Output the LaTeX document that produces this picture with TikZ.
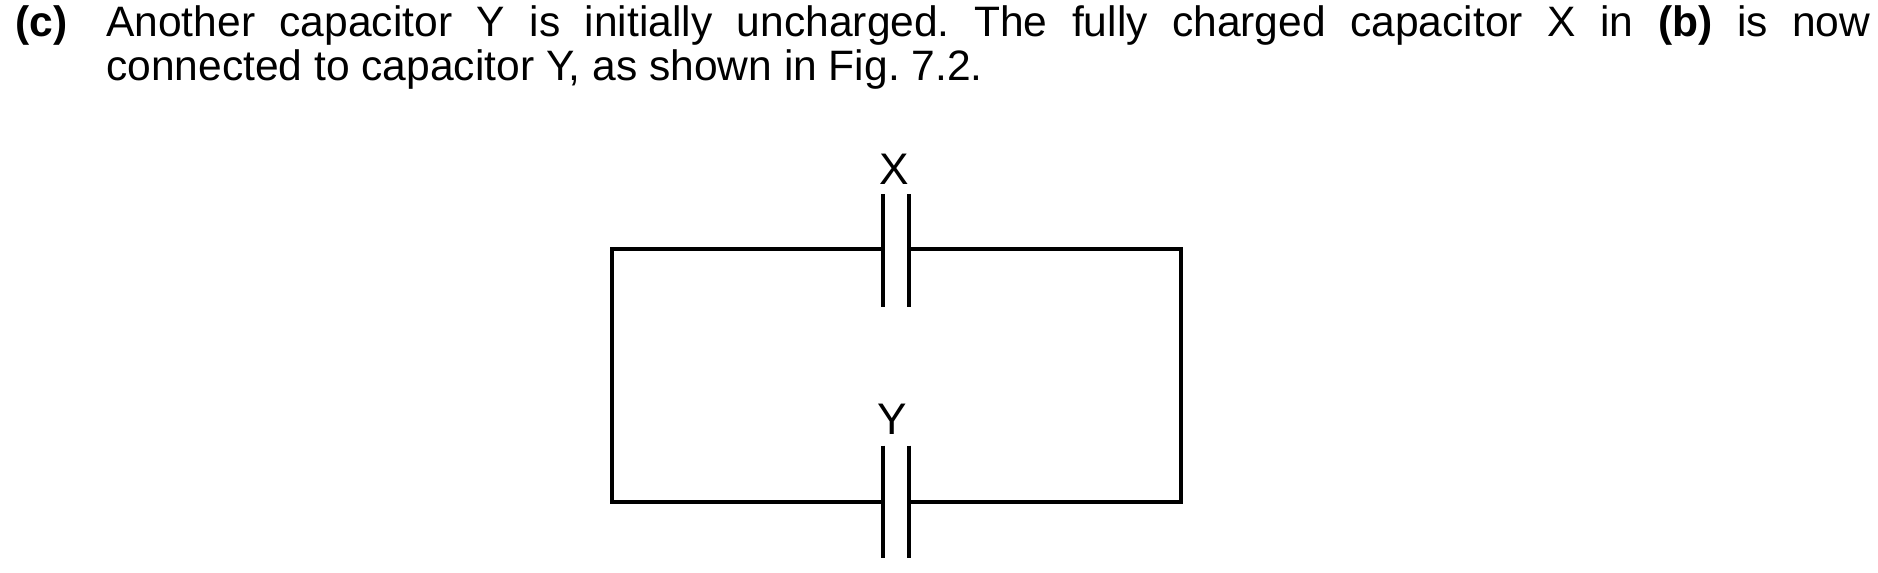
\documentclass[tikz,border=0pt]{standalone}
\usepackage{fontspec}
\setmainfont{Liberation Sans}
\frenchspacing
\begin{document}
\begin{tikzpicture}[x=0.01cm,y=-0.01cm,
  wire/.style={line width=0.9pt,line cap=rect},
  plate/.style={line width=0.9pt},
  lbl/.style={font=\fontsize{10.5pt}{11pt}\selectfont,inner sep=0pt},
  body/.style={inner sep=0pt,font=\fontsize{10.1pt}{9.3pt}\selectfont}]
\useasboundingbox (0,0) rectangle (1568,478);
\node[body,anchor=north west,text width=14.72cm,align=justify] (txt) at (88,4)
 {\frenchspacing Another capacitor Y is initially uncharged. The fully charged capacitor X in \textbf{(b)} is now\linebreak connected to capacitor Y, as shown in Fig.~7.2.};
\node[body,anchor=north west,font=\bfseries\fontsize{10.1pt}{9.3pt}\selectfont] (c) at (12,4) {(c)};
\coordinate (tl) at (511,208); \coordinate (tr) at (986,208);
\coordinate (bl) at (511,419); \coordinate (br) at (986,419);
\coordinate (xa) at (737,208); \coordinate (xb) at (759,208);
\coordinate (ya) at (737,419); \coordinate (yb) at (759,419);
\node[lbl] (X) at (747,141) {X};
\node[lbl] (Y) at (745,350) {Y};
\draw[plate] (737,162) -- (737,256); \draw[plate] (759,162) -- (759,256);
\draw[plate] (737,372) -- (737,466); \draw[plate] (759,372) -- (759,466);
\draw[wire] (xa) -- (tl) -- (bl) -- (ya);
\draw[wire] (xb) -- (tr) -- (br) -- (yb);
\end{tikzpicture}
\end{document}
